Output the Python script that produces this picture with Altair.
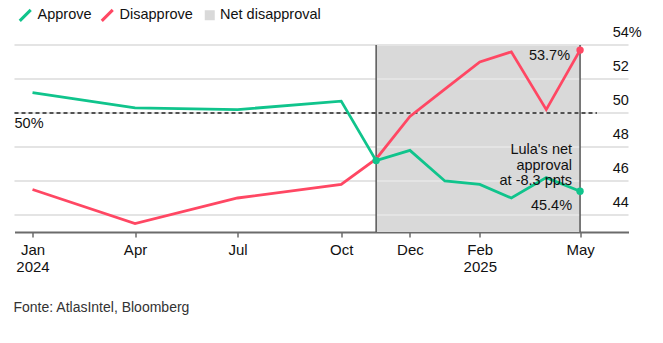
import altair as alt
import pandas as pd

# ---- data ----
dates = ["2024-01-01", "2024-04-01", "2024-07-01", "2024-10-01", "2024-11-01",
         "2024-12-01", "2025-01-01", "2025-02-01", "2025-03-01", "2025-04-01",
         "2025-05-01"]
approve = [51.2, 50.3, 50.2, 50.7, 47.2, 47.8, 46.0, 45.8, 45.0, 46.2, 45.4]
disapprove = [45.5, 43.5, 45.0, 45.8, 47.3, 49.8, 51.4, 53.0, 53.6, 50.2, 53.7]
series_names = ["Approve", "Disapprove"]
series_colors = ["#10c48c", "#ff4763"]

shade_label = "Net disapproval"
shade_start, shade_end = "2024-11-01", "2025-05-01"

y_ticks = [44, 46, 48, 50, 52, 54]
y_domain = [43, 54]
x_ticks = ["2024-01-01", "2024-04-01", "2024-07-01", "2024-10-01",
           "2024-12-01", "2025-02-01", "2025-05-01"]
x_domain = [(2023, 12, 16), (2025, 6, 13)]
reference_level = 50
reference_end = "2025-05-16"
source = "Fonte: AtlasIntel, Bloomberg"

FONT = "Liberation Sans, Arial, sans-serif"
TXT = "#111111"

# ---- tables ----
lines_df = pd.DataFrame({
    "date": dates * 2,
    "series": [series_names[0]] * len(dates) + [series_names[1]] * len(dates),
    "value": approve + disapprove,
})
dots_df = pd.DataFrame({
    "date": [dates[4], dates[-1], dates[-1]],
    "series": [series_names[0], series_names[0], series_names[1]],
    "value": [approve[4], approve[-1], disapprove[-1]],
})
shade_df = pd.DataFrame({"date": [shade_start], "end": [shade_end],
                         "value": [y_domain[1]], "bottom": [y_domain[0]],
                         "label": [shade_label]})
edges_df = pd.DataFrame({"date": [shade_start, shade_end],
                         "value": [y_domain[1]] * 2, "bottom": [y_domain[0]] * 2})
start_str = f"{x_domain[0][0]}-{x_domain[0][1]:02d}-{x_domain[0][2]:02d}"
end_str = f"{x_domain[1][0]}-{x_domain[1][1]:02d}-{x_domain[1][2]:02d}"
grid_df = pd.DataFrame({"gv": y_ticks})
ylab_df = pd.DataFrame({
    "date": [end_str] * len(y_ticks),
    "value": y_ticks,
    "text": [f"{v}%" if v == y_ticks[-1] else f"{v}" for v in y_ticks],
})
ref_df = pd.DataFrame({"date": [start_str], "end": [reference_end],
                       "value": [reference_level], "text": [f"{reference_level}%"]})

tick_ms = [int(pd.Timestamp(d, tz="UTC").timestamp() * 1000) for d in x_ticks]
seen_years = set()
year_ticks = []
for d, ms in zip(x_ticks, tick_ms):
    yr = d[:4]
    if yr not in seen_years:
        seen_years.add(yr)
        year_ticks.append(ms)
year_cond = " || ".join(f"time(datum.value) == {m}" for m in year_ticks)
label_expr = (f"({year_cond}) ? [utcFormat(datum.value, '%b'), utcFormat(datum.value, '%Y')]"
              " : utcFormat(datum.value, '%b')")

x_scale = alt.Scale(type="utc", domain=[
    alt.DateTime(year=x_domain[0][0], month=x_domain[0][1], date=x_domain[0][2], utc=True),
    alt.DateTime(year=x_domain[1][0], month=x_domain[1][1], date=x_domain[1][2], utc=True)])
y_scale = alt.Scale(domain=y_domain, nice=False, zero=False)

x_axis = alt.Axis(values=tick_ms, labelExpr=label_expr, grid=False, title=None,
                  domainColor="#6b6b6b", domainWidth=2, tickColor="#6b6b6b",
                  tickSize=5, tickWidth=1.5, labelPadding=5, labelFontSize=15,
                  labelLineHeight=17, labelColor=TXT, labelFlush=False,
                  labelOverlap=False, labelFont=FONT)


def bx(f="date"):
    return alt.X(f"{f}:T", scale=x_scale, axis=x_axis, title=None)


def by(f="value"):
    return alt.Y(f"{f}:Q", scale=y_scale, axis=None, title=None)


shade = alt.Chart(shade_df).mark_rect().encode(
    x=bx(), x2="end", y=by(), y2="bottom",
    fill=alt.Fill("label:N", scale=alt.Scale(domain=[shade_label], range=["#d9d9d9"]),
                  legend=alt.Legend(orient="none", legendX=188, legendY=-37, title=None,
                                    symbolType="square", symbolSize=100,
                                    symbolStrokeWidth=0, labelOffset=3, padding=0,
                                    labelFontSize=14.5, labelColor=TXT, labelFont=FONT)),
)

# gridlines: same encoding form as the run in which they rendered
grid = alt.Chart(grid_df).mark_rule(color="#e4e4e4", strokeWidth=2).encode(
    y=alt.Y("gv:Q", scale=y_scale, axis=None))

ylabels = alt.Chart(ylab_df).mark_text(align="left", baseline="alphabetic", dx=-15.8,
                                       dy=-8.5, fontSize=14.5, color=TXT, font=FONT).encode(
    x=bx(), y=by(), text="text:N")

edges = alt.Chart(edges_df).mark_rule(color="#555555", strokeWidth=1.5).encode(
    x=bx(), y=by(), y2="bottom")

ref_line = alt.Chart(ref_df).mark_rule(color="#222222", strokeWidth=1.5,
                                       strokeDash=[4, 3]).encode(
    x=bx(), x2="end", y=by())
ref_text = alt.Chart(ref_df).mark_text(align="left", baseline="middle", dy=11,
                                       fontSize=14.5, color=TXT, font=FONT).encode(
    x=bx(), y=by(), text="text:N")

lines = alt.Chart(lines_df).mark_line(strokeWidth=2.8).encode(
    x=bx(), y=by(),
    color=alt.Color("series:N",
                    scale=alt.Scale(domain=series_names, range=series_colors),
                    legend=alt.Legend(orient="none", legendX=3.5, legendY=-37,
                                      direction="horizontal", title=None,
                                      symbolType="M-1,1L1,-1", symbolSize=120,
                                      symbolStrokeWidth=3, labelOffset=5,
                                      columnPadding=3, padding=0,
                                      labelFontSize=14.5, labelColor=TXT,
                                      labelFont=FONT)),
)

dot_layers = []
for name, col in zip(series_names, series_colors):
    dot_layers.append(
        alt.Chart(dots_df).transform_filter(alt.datum.series == name)
        .mark_circle(size=55, color=col, opacity=1)
        .encode(x=bx(), y=by()))

last_dis = pd.DataFrame({"date": [dates[-1]], "value": [disapprove[-1]],
                         "text": [f"{disapprove[-1]}%"]})
last_app = pd.DataFrame({"date": [dates[-1]], "value": [approve[-1]],
                         "text": [f"{approve[-1]}%"]})
net = round(approve[-1] - disapprove[-1], 1)
note_df = pd.DataFrame({"date": [dates[-1]], "value": [47.8],
                        "text": [f"Lula's net\napproval\nat {net} ppts"]})

txt_kw = dict(align="right", baseline="middle", fontSize=14.5, color=TXT, font=FONT)
t1 = alt.Chart(last_dis).mark_text(dx=-10, dy=6, **txt_kw).encode(
    x=bx(), y=by(), text="text:N")
t2 = alt.Chart(last_app).mark_text(dx=-8, dy=14.5, **txt_kw).encode(
    x=bx(), y=by(), text="text:N")
t3 = alt.Chart(note_df).mark_text(dx=-8, lineBreak="\n", lineHeight=15.5, **txt_kw).encode(
    x=bx(), y=by(), text="text:N")

chart = alt.layer(shade, grid, ylabels, edges, ref_line, ref_text, lines, *dot_layers,
                  t1, t2, t3).properties(
    width=614, height=187,
    padding={"left": 13.5, "top": 8, "right": 5, "bottom": 5},
    title=alt.TitleParams(source, orient="bottom", anchor="start", fontSize=14,
                          fontWeight="normal", color="#333333", offset=27, font=FONT),
).resolve_scale(color="independent").configure(
    font=FONT, view=alt.ViewConfig(stroke=None))

chart.save("out.html", embed_options={"renderer": "svg", "actions": False})
